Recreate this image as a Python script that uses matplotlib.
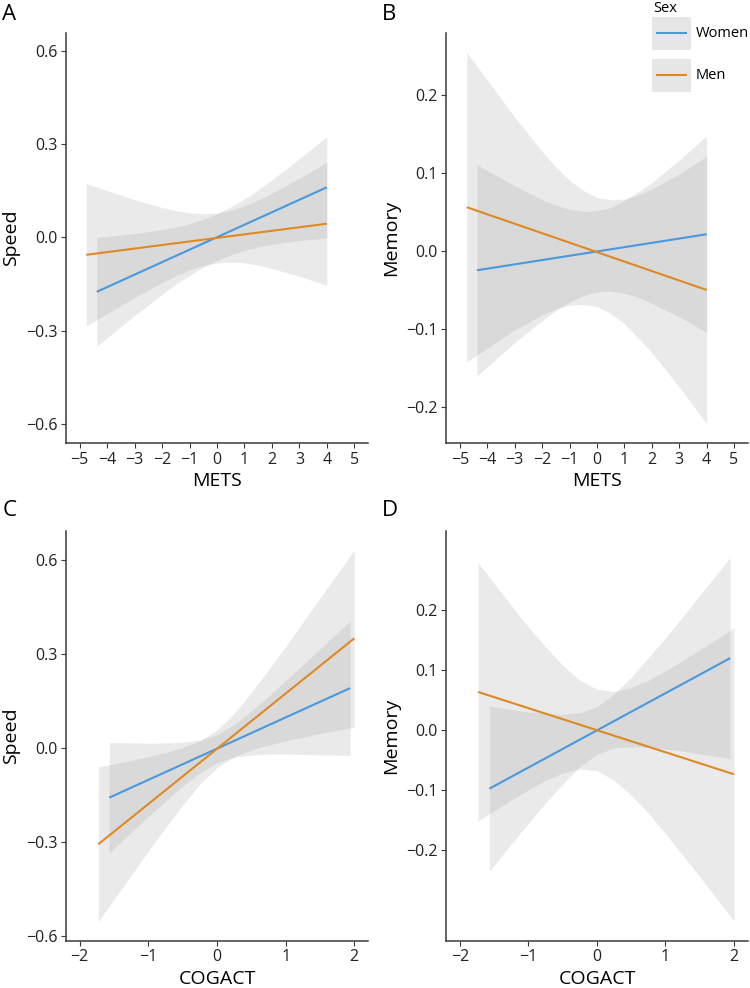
import matplotlib
matplotlib.use('Agg')
import matplotlib.pyplot as plt
from matplotlib.patches import Rectangle

plt.rcParams['font.family'] = ['Open Sans', 'DejaVu Sans']

# culori
c_women = '#4a98dd'
c_men = '#de8a24'
c_band = '#999999'
c_axis = '#3a3a3a'

# ============================================================
# Date
# ============================================================
# A: Speed ~ METS
a_w_x = [-4.38, -3, -2, -1.5, -1, -0.5, 0, 0.5, 1, 1.5, 2, 3, 4]
a_w_hi = [0.000, 0.012, 0.025, 0.033, 0.044, 0.058, 0.076, 0.098, 0.124, 0.153, 0.185, 0.253, 0.324]
a_w_lo = [-0.350, -0.251, -0.183, -0.151, -0.122, -0.096, -0.074, -0.056, -0.042, -0.031, -0.023, -0.010, -0.002]
a_w_line = [-0.175, 0.161]
a_m_x = [-4.76, -3, -2, -1.5, -1, -0.5, 0, 0.5, 1, 1.5, 2, 3, 4]
a_m_hi = [0.173, 0.121, 0.096, 0.086, 0.079, 0.076, 0.078, 0.087, 0.102, 0.120, 0.142, 0.190, 0.242]
a_m_lo = [-0.285, -0.193, -0.145, -0.124, -0.105, -0.091, -0.082, -0.079, -0.082, -0.089, -0.100, -0.125, -0.154]
a_m_line = [-0.056, 0.044]

# B: Memory ~ METS
b_w_x = [-4.38, -3, -2, -1.5, -1, -0.5, 0, 0.5, 1, 1.5, 2, 3, 4]
b_w_hi = [0.111, 0.084, 0.066, 0.059, 0.054, 0.051, 0.052, 0.056, 0.065, 0.076, 0.088, 0.117, 0.148]
b_w_lo = [-0.160, -0.117, -0.089, -0.076, -0.065, -0.057, -0.052, -0.051, -0.054, -0.059, -0.067, -0.084, -0.104]
b_w_line = [-0.0244, 0.0218]
b_m_x = [-4.75, -3, -2, -1.5, -1, -0.5, 0, 0.5, 1, 1.5, 2, 3, 4]
b_m_hi = [0.255, 0.172, 0.128, 0.108, 0.091, 0.078, 0.069, 0.066, 0.067, 0.072, 0.080, 0.099, 0.122]
b_m_lo = [-0.142, -0.101, -0.082, -0.074, -0.069, -0.068, -0.071, -0.080, -0.093, -0.111, -0.130, -0.174, -0.221]
b_m_line = [0.0565, -0.0496]

# C: Speed ~ COGACT
c_w_x = [-1.57, -1.25, -1, -0.75, -0.5, -0.25, 0, 0.25, 0.5, 0.75, 1, 1.25, 1.5, 1.75, 1.94]
c_w_hi = [0.017, 0.016, 0.015, 0.016, 0.018, 0.025, 0.042, 0.075, 0.118, 0.165, 0.215, 0.265, 0.316, 0.367, 0.406]
c_w_lo = [-0.335, -0.270, -0.219, -0.170, -0.122, -0.080, -0.047, -0.030, -0.023, -0.020, -0.020, -0.021, -0.022, -0.023, -0.024]
c_w_line = [-0.159, 0.191]
c_m_x = [-1.73, -1.25, -1, -0.75, -0.5, -0.25, 0, 0.25, 0.5, 0.75, 1, 1.25, 1.5, 1.75, 2.0]
c_m_hi = [-0.061, -0.040, -0.028, -0.015, 0.001, 0.022, 0.057, 0.110, 0.177, 0.249, 0.324, 0.401, 0.478, 0.555, 0.633]
c_m_lo = [-0.555, -0.407, -0.330, -0.255, -0.183, -0.116, -0.063, -0.028, -0.007, 0.009, 0.022, 0.034, 0.046, 0.056, 0.067]
c_m_line = [-0.308, 0.350]

# D: Memory ~ COGACT
d_w_x = [-1.57, -1.25, -1, -0.75, -0.5, -0.25, 0, 0.25, 0.5, 0.75, 1, 1.25, 1.5, 1.75, 1.944]
d_w_hi = [0.040, 0.034, 0.030, 0.028, 0.026, 0.029, 0.039, 0.060, 0.088, 0.121, 0.154, 0.189, 0.225, 0.260, 0.288]
d_w_lo = [-0.236, -0.190, -0.156, -0.122, -0.090, -0.061, -0.041, -0.030, -0.028, -0.029, -0.032, -0.035, -0.040, -0.044, -0.048]
d_w_line = [-0.098, 0.120]
d_m_x = [-1.735, -1.25, -1, -0.75, -0.5, -0.25, 0, 0.25, 0.5, 0.75, 1, 1.25, 1.5, 1.75, 2.0]
d_m_hi = [0.279, 0.208, 0.172, 0.139, 0.108, 0.083, 0.068, 0.064, 0.071, 0.083, 0.099, 0.116, 0.134, 0.152, 0.171]
d_m_lo = [-0.152, -0.117, -0.100, -0.084, -0.072, -0.065, -0.068, -0.084, -0.109, -0.139, -0.173, -0.209, -0.245, -0.282, -0.319]
d_m_line = [0.0635, -0.074]

mets_ticks = [-5, -4, -3, -2, -1, 0, 1, 2, 3, 4, 5]
cog_ticks = [-2, -1, 0, 1, 2]
speed_ticks = [-0.6, -0.3, 0.0, 0.3, 0.6]
memory_ticks = [-0.2, -0.1, 0.0, 0.1, 0.2]

legend_labels = ['Women', 'Men']
legend_colors = [c_women, c_men]


def fmt(v, dec):
    s = '{:.{}f}'.format(abs(v), dec)
    return ('\u2212' + s) if v < -1e-9 else s


# (litera, pozitie axe, date femei, date barbati, xlabel, ylabel, xticks, yticks, xlim, ylim)
panels = [
    ('A', [0.088, 0.5516, 0.4027, 0.415],
     (a_w_x, a_w_lo, a_w_hi, a_w_line), (a_m_x, a_m_lo, a_m_hi, a_m_line),
     'METS', 'Speed', mets_ticks, speed_ticks, (-5.5, 5.5), (-0.661, 0.657)),
    ('B', [0.595, 0.5516, 0.4019, 0.415],
     (b_w_x, b_w_lo, b_w_hi, b_w_line), (b_m_x, b_m_lo, b_m_hi, b_m_line),
     'METS', 'Memory', mets_ticks, memory_ticks, (-5.5, 5.5), (-0.246, 0.28)),
    ('C', [0.088, 0.0479, 0.4027, 0.415],
     (c_w_x, c_w_lo, c_w_hi, c_w_line), (c_m_x, c_m_lo, c_m_hi, c_m_line),
     'COGACT', 'Speed', cog_ticks, speed_ticks, (-2.2, 2.2), (-0.616, 0.694)),
    ('D', [0.595, 0.0479, 0.4019, 0.415],
     (d_w_x, d_w_lo, d_w_hi, d_w_line), (d_m_x, d_m_lo, d_m_hi, d_m_line),
     'COGACT', 'Memory', cog_ticks, memory_ticks, (-2.2, 2.2), (-0.352, 0.333)),
]

fig = plt.figure(figsize=(7.5, 9.88), dpi=100)

for lit, pos, women, men, xl, yl, xt, yt, xlim, ylim in panels:
    ax = fig.add_axes(pos)
    # benzile de incredere
    for x, lo, hi, line in (men, women):
        ax.fill_between(x, lo, hi, color=c_band, alpha=0.2, linewidth=0)
    # dreptele de regresie
    for (x, lo, hi, line), col in ((women, c_women), (men, c_men)):
        ax.plot([x[0], x[-1]], line, color=col, linewidth=1.5, solid_capstyle='butt')

    ax.set_xlim(*xlim)
    ax.set_ylim(*ylim)
    ax.set_xticks(xt)
    ax.set_xticklabels([fmt(v, 0) for v in xt])
    ax.set_yticks(yt)
    ax.set_yticklabels([fmt(v, 1) for v in yt])
    ax.tick_params(direction='out', length=3.8, width=0.8, color=c_axis,
                   labelsize=11.5, labelcolor='#222222', pad=2.5)
    for s in ('top', 'right'):
        ax.spines[s].set_visible(False)
    for s in ('left', 'bottom'):
        ax.spines[s].set_color(c_axis)
        ax.spines[s].set_linewidth(1.1)
    ax.set_xlabel(xl, fontsize=14, labelpad=3)
    ax.set_ylabel(yl, fontsize=14, labelpad=4)

    fx = 0.003 if lit in 'AC' else 0.509
    fy = 0.996 if lit in 'AB' else 0.494
    fig.text(fx, fy, lit, fontsize=16, va='top', ha='left')

# legenda (desenata manual, coordonate in pixeli de figura)
lax = fig.add_axes([640 / 750, 1 - 100 / 988, 110 / 750, 100 / 988])
lax.set_xlim(640, 750)
lax.set_ylim(100, 0)
lax.axis('off')
lax.text(653, 1, 'Sex', fontsize=10.5, va='top', ha='left')
for i, (lab, col) in enumerate(zip(legend_labels, legend_colors)):
    y0 = 17 + i * 42
    lax.add_patch(Rectangle((651.5, y0), 39, 33, facecolor='#e6e6e6', edgecolor='none'))
    lax.plot([655.5, 686.5], [y0 + 16.5, y0 + 16.5], color=col, linewidth=1.5,
             solid_capstyle='butt')
    lax.text(695.5, y0 + 16.5, lab, fontsize=10.5, va='center', ha='left')

plt.savefig('out.png', dpi=100)
